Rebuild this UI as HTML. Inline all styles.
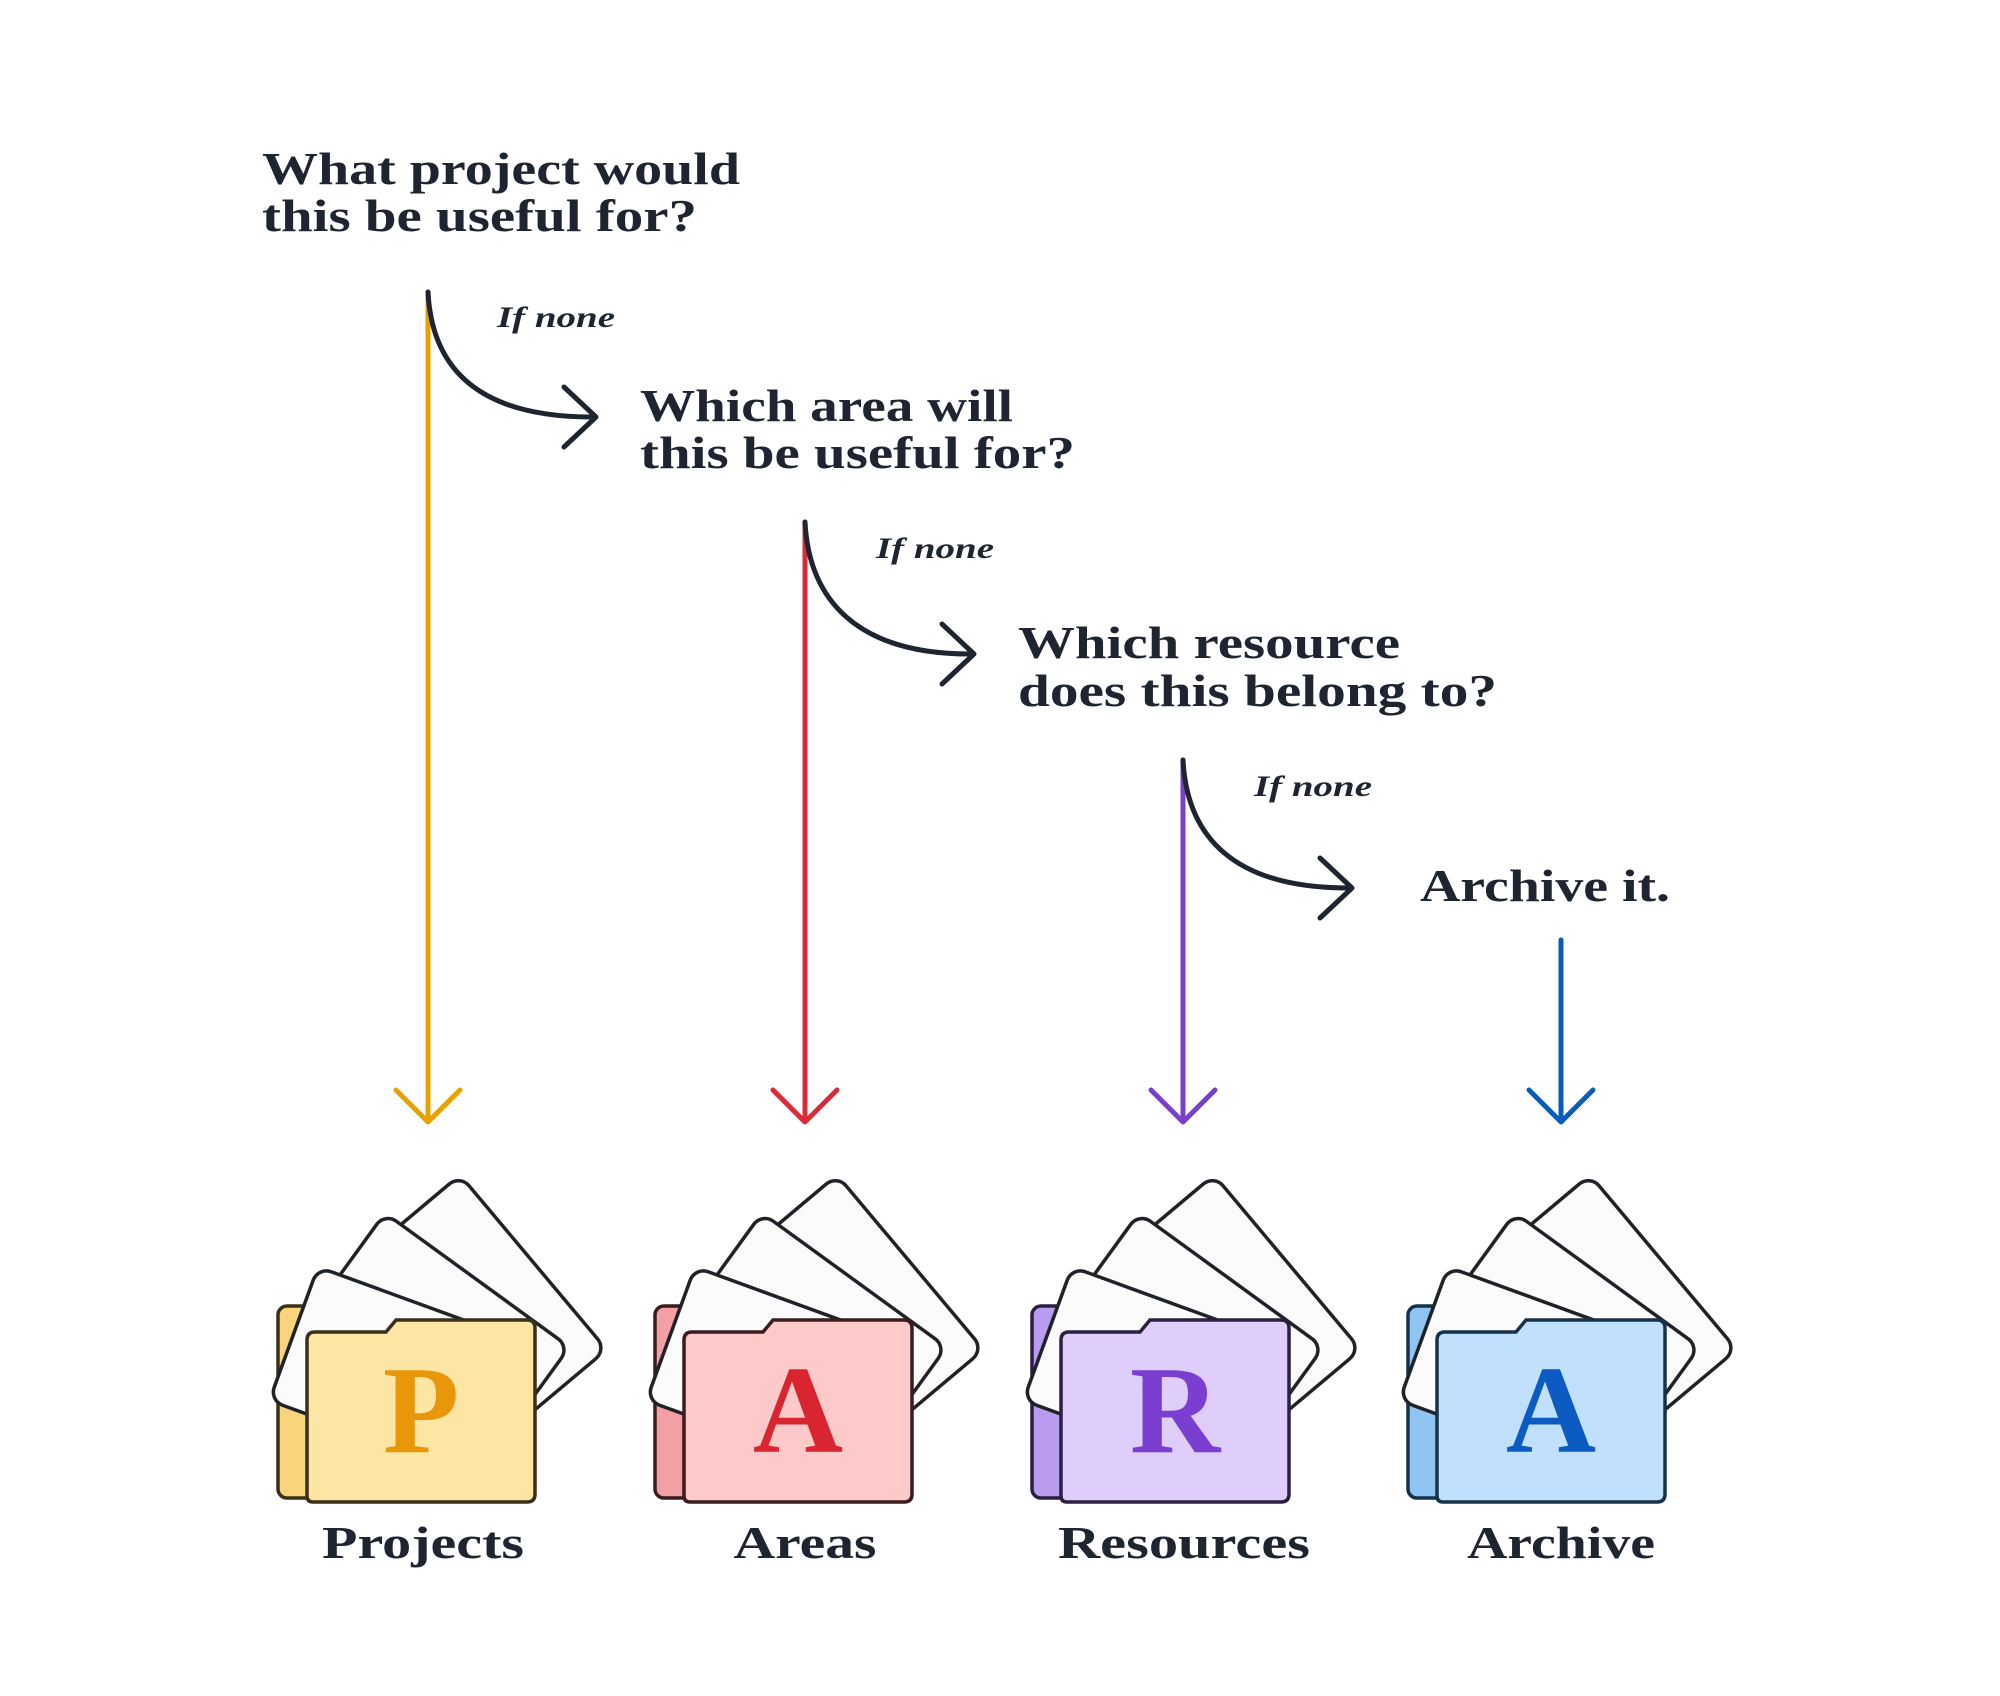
<!DOCTYPE html>
<html><head><meta charset="utf-8"><style>
html,body{margin:0;padding:0;background:#fff;}
svg{display:block;}
text{font-family:"Liberation Serif",serif;font-weight:bold;fill:#1e2530;}
</style></head><body>
<svg width="2000" height="1696" viewBox="0 0 2000 1696" xmlns="http://www.w3.org/2000/svg">
<rect width="2000" height="1696" fill="#fff"/>
<text x="262" y="184" font-size="46" textLength="478" lengthAdjust="spacingAndGlyphs">What project would</text>
<text x="262" y="231" font-size="46" textLength="435" lengthAdjust="spacingAndGlyphs">this be useful for?</text>
<text x="640" y="421" font-size="46" textLength="373" lengthAdjust="spacingAndGlyphs">Which area will</text>
<text x="640" y="468" font-size="46" textLength="435" lengthAdjust="spacingAndGlyphs">this be useful for?</text>
<text x="1018" y="658" font-size="46" textLength="382" lengthAdjust="spacingAndGlyphs">Which resource</text>
<text x="1018" y="706" font-size="46" textLength="479" lengthAdjust="spacingAndGlyphs">does this belong to?</text>
<text x="1420" y="901" font-size="46" textLength="250" lengthAdjust="spacingAndGlyphs">Archive it.</text>
<g font-style="italic" font-size="30">
<text x="497" y="327" textLength="118" lengthAdjust="spacingAndGlyphs">If none</text>
<text x="876" y="558" textLength="118" lengthAdjust="spacingAndGlyphs">If none</text>
<text x="1254" y="796" textLength="118" lengthAdjust="spacingAndGlyphs">If none</text>
</g>
<g fill="none" stroke-width="5" stroke-linecap="round" stroke-linejoin="round">
<path d="M428,292 V1120 M396,1090 L428,1122 L460,1090" stroke="#e8a200"/>
<path d="M805,522 V1120 M773,1090 L805,1122 L837,1090" stroke="#d92b38"/>
<path d="M1183,760 V1120 M1151,1090 L1183,1122 L1215,1090" stroke="#7a3fc9"/>
<path d="M1561,940 V1120 M1529,1090 L1561,1122 L1593,1090" stroke="#0a5cb8"/>
<g stroke="#1e2530">
<path d="M428,292 C432,370 480,417 592,417 M564,387 L596,417 L564,447"/>
<path d="M805,522 C809,600 857,654 970,654 M942,624 L974,654 L942,684"/>
<path d="M1183,760 C1187,838 1235,888 1348,888 M1320,858 L1352,888 L1320,918"/>
</g>
</g>
<defs>
<g id="papers" fill="#fbfbfc" stroke="#1f2328" stroke-width="3.5">
<rect transform="translate(460,1175) rotate(50)" width="228" height="150" rx="14"/>
<rect transform="translate(385,1213) rotate(36)" width="228" height="150" rx="14"/>
<rect transform="translate(318,1267) rotate(20)" width="228" height="142" rx="14"/>
</g>
</defs>
<g>
<rect x="278" y="1306" width="40" height="192" rx="9" fill="#f8d57a" stroke="#3a2f18" stroke-width="3.5"/>
<use href="#papers"/>
<path d="M307,1496 V1340 Q307,1332 315,1332 H386 L396,1320 H527 Q535,1320 535,1328 V1494 Q535,1502 527,1502 H313 Q307,1502 307,1496Z" fill="#fde6a4" stroke="#3a2f18" stroke-width="3.5"/>
<text x="421" y="1452" font-size="125" text-anchor="middle" style="fill:#e8960a">P</text>
<text x="423" y="1558" font-size="45" text-anchor="middle" textLength="202" lengthAdjust="spacingAndGlyphs">Projects</text>
</g>
<g transform="translate(377,0)">
<rect x="278" y="1306" width="40" height="192" rx="9" fill="#f3a0a4" stroke="#3a1c1e" stroke-width="3.5"/>
<use href="#papers"/>
<path d="M307,1496 V1340 Q307,1332 315,1332 H386 L396,1320 H527 Q535,1320 535,1328 V1494 Q535,1502 527,1502 H313 Q307,1502 307,1496Z" fill="#fdc9c9" stroke="#3a1c1e" stroke-width="3.5"/>
<text x="421" y="1452" font-size="125" text-anchor="middle" style="fill:#d9252f">A</text>
<text x="428" y="1558" font-size="45" text-anchor="middle" textLength="143" lengthAdjust="spacingAndGlyphs">Areas</text>
</g>
<g transform="translate(754,0)">
<rect x="278" y="1306" width="40" height="192" rx="9" fill="#b99cf0" stroke="#2b2040" stroke-width="3.5"/>
<use href="#papers"/>
<path d="M307,1496 V1340 Q307,1332 315,1332 H386 L396,1320 H527 Q535,1320 535,1328 V1494 Q535,1502 527,1502 H313 Q307,1502 307,1496Z" fill="#dfcdfb" stroke="#2b2040" stroke-width="3.5"/>
<text x="421" y="1452" font-size="125" text-anchor="middle" style="fill:#7a3fd0">R</text>
<text x="430" y="1558" font-size="45" text-anchor="middle" textLength="252" lengthAdjust="spacingAndGlyphs">Resources</text>
</g>
<g transform="translate(1130,0)">
<rect x="278" y="1306" width="40" height="192" rx="9" fill="#90c4f2" stroke="#15324a" stroke-width="3.5"/>
<use href="#papers"/>
<path d="M307,1496 V1340 Q307,1332 315,1332 H386 L396,1320 H527 Q535,1320 535,1328 V1494 Q535,1502 527,1502 H313 Q307,1502 307,1496Z" fill="#c1e0fd" stroke="#15324a" stroke-width="3.5"/>
<text x="421" y="1452" font-size="125" text-anchor="middle" style="fill:#0b5bc3">A</text>
<text x="431" y="1558" font-size="45" text-anchor="middle" textLength="188" lengthAdjust="spacingAndGlyphs">Archive</text>
</g>
</svg>
</body></html>
